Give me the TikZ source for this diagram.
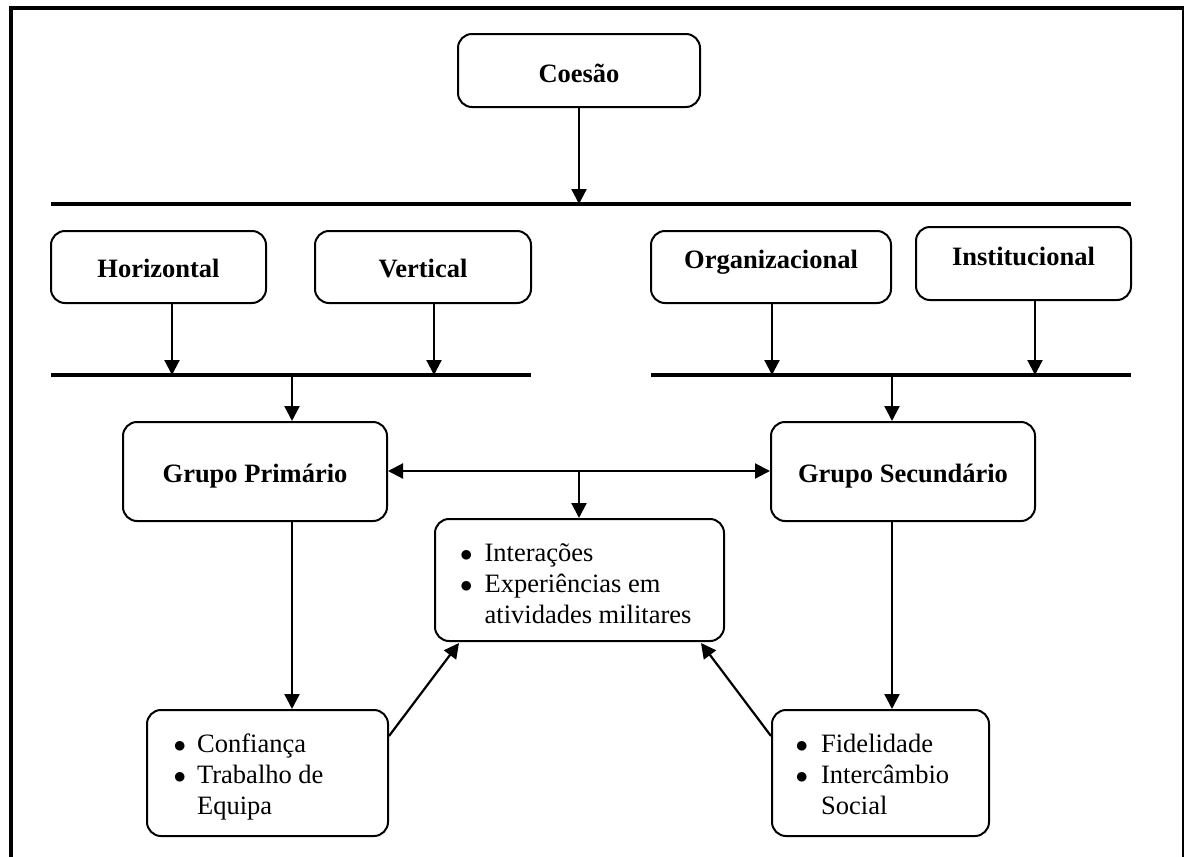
\documentclass[tikz,border=0pt]{standalone}
\usepackage{fontspec}
\setmainfont{Liberation Serif}
\usetikzlibrary{arrows.meta,calc}

\begin{document}
\begin{tikzpicture}[x=1pt,y=-1pt,
  box/.style={draw, line width=2pt, rounded corners=14pt, inner sep=0pt},
  lbl/.style={font=\fontsize{26.5}{31}\selectfont\bfseries, inner sep=0pt, anchor=base},
  lst/.style={font=\fontsize{26.5}{31}\selectfont, inner sep=0pt, anchor=base west},
  bar/.style={line width=4.5pt},
  arr/.style={line width=2.2pt, -{Triangle[length=15pt,width=15pt]}},
  darr/.style={line width=2.2pt, {Triangle[length=15pt,width=15pt]}-{Triangle[length=15pt,width=15pt]}},
]
\useasboundingbox (0,0) rectangle (1184,857);

% outer frame (open at the bottom)
\draw[line width=4pt] (11.3,857) -- (11.3,8) -- (1184,8);
\draw[line width=1.6pt] (1183,8) -- (1183,857);

% boxes
\node[box, minimum width=242pt, minimum height=73pt] (coesao) at (579,70.5) {};
\node[lbl] (coesaoT) at (579,82) {Coesão};

\node[box, minimum width=215pt, minimum height=72pt] (horiz) at (158.5,267) {};
\node[lbl] (horizT) at (158.5,277) {Horizontal};
\node[box, minimum width=216pt, minimum height=72pt] (vert) at (423,267) {};
\node[lbl] (vertT) at (423,277) {Vertical};
\node[box, minimum width=240pt, minimum height=72pt] (org) at (771,267) {};
\node[lbl] (orgT) at (771,268) {Organizacional};
\node[box, minimum width=215pt, minimum height=73pt] (inst) at (1023.5,263.5) {};
\node[lbl] (instT) at (1023.5,265) {Institucional};

\node[box, minimum width=264pt, minimum height=99pt] (gprim) at (255,471.5) {};
\node[lbl] (gprimT) at (255,482) {Grupo Primário};
\node[box, minimum width=264pt, minimum height=99pt] (gsec) at (903,471.5) {};
\node[lbl] (gsecT) at (903,482) {Grupo Secundário};

\node[box, minimum width=289pt, minimum height=122pt] (inter) at (579.5,580) {};
\node[lst] (interT) at (460,561) {\begin{tabular}[t]{@{}l@{\hspace{12pt}}l@{}}
  $\bullet$ & Interações\\
  $\bullet$ & Experiências em\\
    & atividades militares
\end{tabular}};

\node[box, minimum width=241pt, minimum height=126pt] (conf) at (267.5,773) {};
\node[lst] (confT) at (173.5,752) {\begin{tabular}[t]{@{}l@{\hspace{11pt}}l@{}}
  $\bullet$ & Confiança\\
  $\bullet$ & Trabalho de\\
    & Equipa
\end{tabular}};

\node[box, minimum width=217pt, minimum height=126pt] (fid) at (880.5,773) {};
\node[lst] (fidT) at (795.5,752) {\begin{tabular}[t]{@{}l@{\hspace{13pt}}l@{}}
  $\bullet$ & Fidelidade\\
  $\bullet$ & Intercâmbio\\
    & Social
\end{tabular}};

% bars
\coordinate (topL) at (51,204);
\coordinate (topR) at (1131,204);
\coordinate (lbL) at (51,375);
\coordinate (lbR) at (531,375);
\coordinate (rbL) at (651,375);
\coordinate (rbR) at (1131,375);
\draw[bar] (topL) -- (topR);
\draw[bar] (lbL) -- (lbR);
\draw[bar] (rbL) -- (rbR);

% connectors
\draw[arr] (coesao.south) -- (coesao.south |- topL);

\coordinate (hA) at (172,375);
\coordinate (vA) at (434,375);
\coordinate (oA) at (772,375);
\coordinate (iA) at (1035,375);
\draw[arr] (hA |- horiz.south) -- (hA);
\draw[arr] (vA |- vert.south) -- (vA);
\draw[arr] (oA |- org.south) -- (oA);
\draw[arr] (iA |- inst.south) -- (iA);

\coordinate (lS) at (292,375);
\coordinate (rS) at (892,375);
\draw[arr] (lS) -- (lS |- gprim.north);
\draw[arr] (rS) -- (rS |- gsec.north);

\coordinate (mid) at (579,471);
\draw[darr] (gprim.east |- mid) -- (gsec.west |- mid);
\draw[arr] (mid) -- (mid |- inter.north);

\draw[arr] (lS |- gprim.south) -- (lS |- conf.north);
\draw[arr] (rS |- gsec.south) -- (rS |- fid.north);

\draw[arr] ($(conf.north east)+(0,27)$) -- ($(inter.south west)+(25,1)$);
\draw[arr] ($(fid.north west)+(0,27)$) -- ($(inter.south east)+(-24,1)$);
\end{tikzpicture}
\end{document}
